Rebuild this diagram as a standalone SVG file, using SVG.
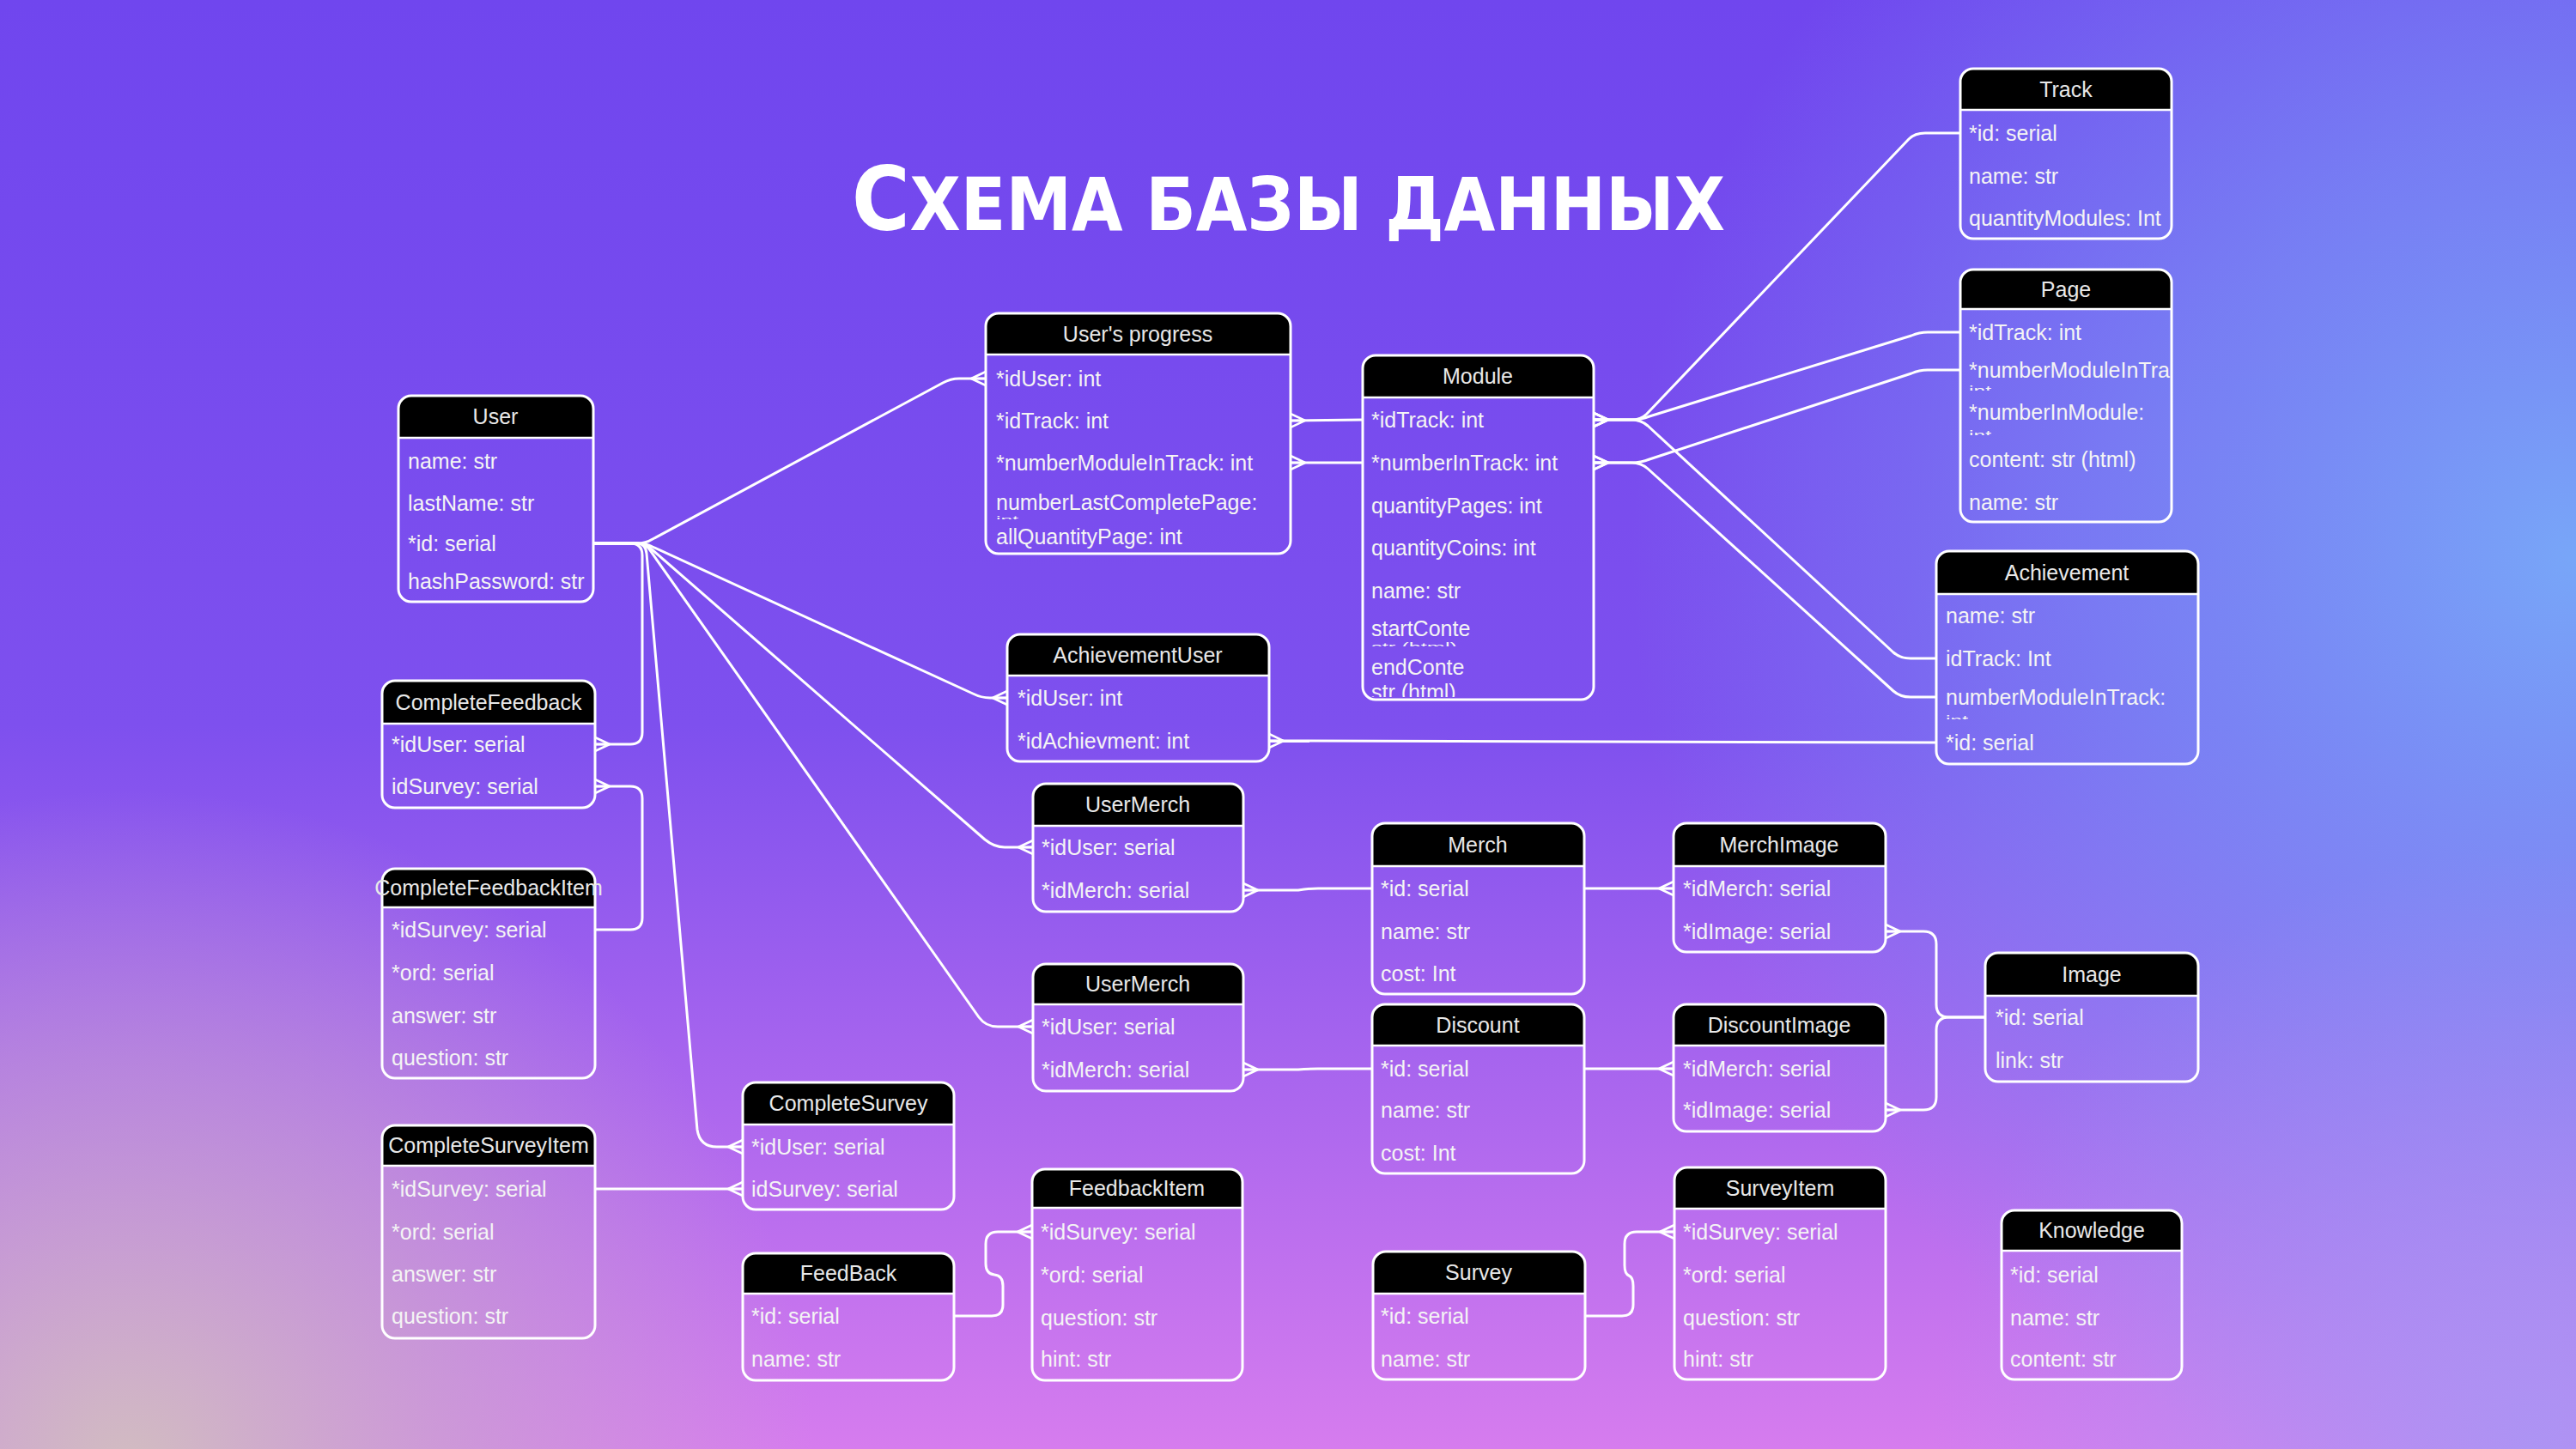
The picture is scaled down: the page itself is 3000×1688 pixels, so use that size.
<svg xmlns="http://www.w3.org/2000/svg" width="3000" height="1688" viewBox="0 0 3000 1688">
<defs>
<linearGradient id="bgBase" x1="0" y1="0" x2="0" y2="1">
<stop offset="0" stop-color="#7046EE"/>
<stop offset="0.5" stop-color="#7E50EE"/>
<stop offset="1" stop-color="#D67CEE"/>
</linearGradient>
<radialGradient id="bgBlue" cx="3000" cy="650" r="1100" gradientUnits="userSpaceOnUse">
<stop offset="0" stop-color="#78A6F8" stop-opacity="1"/>
<stop offset="0.45" stop-color="#7894F6" stop-opacity="0.7"/>
<stop offset="1" stop-color="#7894F6" stop-opacity="0"/>
</radialGradient>
<radialGradient id="bgBeige" cx="150" cy="1720" r="800" gradientUnits="userSpaceOnUse">
<stop offset="0" stop-color="#D2BEC0" stop-opacity="1"/>
<stop offset="0.5" stop-color="#C8A8CC" stop-opacity="0.6"/>
<stop offset="1" stop-color="#C8A8CC" stop-opacity="0"/>
</radialGradient>
<radialGradient id="bgLav" cx="2950" cy="1688" r="700" gradientUnits="userSpaceOnUse">
<stop offset="0" stop-color="#A996F4" stop-opacity="0.9"/>
<stop offset="1" stop-color="#A996F4" stop-opacity="0"/>
</radialGradient>
<marker id="many" markerUnits="userSpaceOnUse" markerWidth="40" markerHeight="40" viewBox="-20 -20 40 40" refX="0" refY="0" orient="auto" overflow="visible">
<path d="M-17,0 L0,-8 M-17,0 L0,8 M-17,0 L0,0" stroke="#ffffff" stroke-width="2.5" fill="none"/>
</marker>
<clipPath id="cPage1"><rect x="2283" y="448" width="246" height="7"/></clipPath>
<clipPath id="cPage2"><rect x="2283" y="500" width="246" height="7"/></clipPath>
<clipPath id="cAch"><rect x="2255" y="830" width="305" height="8"/></clipPath>
<clipPath id="cUP"><rect x="1148" y="600" width="355" height="5"/></clipPath>
<clipPath id="cMod1"><rect x="1587" y="747" width="269" height="6"/></clipPath>
<clipPath id="cMod2"><rect x="1587" y="792" width="269" height="20"/></clipPath>
<clipPath id="cPageW"><rect x="2283" y="410" width="246" height="40"/></clipPath>
</defs>
<style>
.hdr{fill:#000000;}
.box{fill:none;stroke:#ffffff;stroke-width:3;}
.sep{stroke:#ffffff;stroke-width:2.5;}
.ht{font-family:"Liberation Sans",Arial,sans-serif;font-size:25px;fill:#e8e8e8;text-anchor:middle;}
.rt{font-family:"Liberation Sans",Arial,sans-serif;font-size:25px;fill:#f4f4f4;}
.fr{font-family:"Liberation Sans",Arial,sans-serif;fill:#f4f4f4;}
.cn path{fill:none;stroke:#ffffff;stroke-width:3;stroke-linejoin:round;}
.cn .m{marker-end:url(#many);}
</style>
<rect x="0" y="0" width="3000" height="1688" fill="url(#bgBase)"/>
<rect x="0" y="0" width="3000" height="1688" fill="url(#bgBlue)"/>
<rect x="0" y="0" width="3000" height="1688" fill="url(#bgBeige)"/>
<rect x="0" y="0" width="3000" height="1688" fill="url(#bgLav)"/>

<text id="title" x="992" y="268" textLength="1017" lengthAdjust="spacingAndGlyphs" font-family="'DejaVu Sans Condensed','DejaVu Sans','Open Sans',sans-serif" font-weight="bold" fill="#ffffff"><tspan font-size="103">С</tspan><tspan font-size="86" style="text-transform:uppercase">хема базы данных</tspan></text>

<g id="connectors" class="cn">
<path class="m" d="M691,633 H742 Q752,633 760,628 L1098,446 Q1107,441 1117,441 H1148"/>
<path class="m" d="M691,633 H742 Q752,633 760,637 L1133,808 Q1143,813 1153,813 H1173"/>
<path class="m" d="M691,633 H742 Q752,633 759,640 L1147,978 Q1158,987 1170,987 H1203"/>
<path class="m" d="M691,633 H742 Q752,633 757,641 L1140,1185 Q1148,1196 1162,1196 H1203"/>
<path class="m" d="M691,633 H742 Q752,633 753,645 L812,1316 Q815,1336 835,1336 H865"/>
<path class="m" d="M691,633 H734 Q748,633 748,647 V853 Q748,867 734,867 H693"/>
<path class="m" d="M693,1083 H734 Q748,1083 748,1069 V930 Q748,916 734,916 H693"/>
<path class="m" d="M693,1385 H865"/>
<path class="m" d="M1111,1533 H1155 Q1168,1533 1168,1520 V1498 Q1168,1486 1158,1485 Q1148,1484 1148,1472 V1449 Q1148,1435 1162,1435 H1202"/>
<path class="m" d="M1846,1533 H1889 Q1902,1533 1902,1520 V1498 Q1902,1488 1897,1486 Q1892,1484 1892,1474 V1449 Q1892,1435 1906,1435 H1950"/>
<path class="m" d="M1598,1035 H1535 Q1522,1035 1512,1037 H1448"/>
<path class="m" d="M1598,1245 H1535 Q1522,1245 1512,1246 H1448"/>
<path class="m" d="M1845,1035 H1949"/>
<path class="m" d="M1845,1245 H1949"/>
<path class="m" d="M2312,1185 H2270 Q2255,1185 2255,1170 V1100 Q2255,1085 2240,1085 H2196"/>
<path class="m" d="M2312,1185 H2270 Q2255,1185 2255,1200 V1278 Q2255,1293 2240,1293 H2196"/>
<path class="m" d="M2255,865 L1478,863"/>
<path class="m" d="M1587,489 L1503,490"/>
<path class="m" d="M1587,539 H1503"/>
<path class="m" d="M2283,155 H2242 Q2230,155 2223,162 L1918,482 Q1911,489 1900,489 H1856"/>
<path class="m" d="M2283,387 H2245 Q2235,387 2226,391 L1921,485 Q1911,489 1900,489 H1856"/>
<path class="m" d="M2283,431 H2245 Q2235,431 2226,435 L1921,535 Q1911,539 1900,539 H1856"/>
<path class="m" d="M2255,767 H2225 Q2213,767 2205,760 L1919,496 Q1911,489 1900,489 H1856"/>
<path class="m" d="M2255,812 H2225 Q2213,812 2205,805 L1919,546 Q1911,539 1900,539 H1856"/>
</g>

<g id="User">
<path class="hdr" d="M464,510 V476 Q464,461 479,461 H676 Q691,461 691,476 V510 Z"/>
<rect class="box" x="464" y="461" width="227" height="240" rx="15"/>
<line class="sep" x1="464" y1="510" x2="691" y2="510"/>
<text class="ht" x="577" y="494">User</text>
<text class="rt" x="475" y="546">name: str</text>
<text class="rt" x="475" y="595">lastName: str</text>
<text class="rt" x="475" y="642">*id: serial</text>
<text class="rt" x="475" y="686">hashPassword: str</text>
</g>

<g id="Track">
<path class="hdr" d="M2283,128 V95 Q2283,80 2298,80 H2514 Q2529,80 2529,95 V128 Z"/>
<rect class="box" x="2283" y="80" width="246" height="198" rx="15"/>
<line class="sep" x1="2283" y1="128" x2="2529" y2="128"/>
<text class="ht" x="2406" y="113">Track</text>
<text class="rt" x="2293" y="164">*id: serial</text>
<text class="rt" x="2293" y="214">name: str</text>
<text class="rt" x="2293" y="263">quantityModules: Int</text>
</g>

<g id="Page">
<path class="hdr" d="M2283,360 V329 Q2283,314 2298,314 H2514 Q2529,314 2529,329 V360 Z"/>
<rect class="box" x="2283" y="314" width="246" height="294" rx="15"/>
<line class="sep" x1="2283" y1="360" x2="2529" y2="360"/>
<text class="ht" x="2406" y="346">Page</text>
<text class="rt" x="2293" y="396">*idTrack: int</text>
<text class="rt" x="2293" y="440" clip-path="url(#cPageW)">*numberModuleInTra</text>
<text class="fr" x="2293" y="461" font-size="16" textLength="26" lengthAdjust="spacingAndGlyphs" clip-path="url(#cPage1)">int</text>
<text class="rt" x="2293" y="489">*numberInModule:</text>
<text class="fr" x="2293" y="514" font-size="18" textLength="26" lengthAdjust="spacingAndGlyphs" clip-path="url(#cPage2)">int</text>
<text class="rt" x="2293" y="544">content: str (html)</text>
<text class="rt" x="2293" y="594">name: str</text>
</g>

<g id="Achievement">
<path class="hdr" d="M2255,692 V657 Q2255,642 2270,642 H2545 Q2560,642 2560,657 V692 Z"/>
<rect class="box" x="2255" y="642" width="305" height="248" rx="15"/>
<line class="sep" x1="2255" y1="692" x2="2560" y2="692"/>
<text class="ht" x="2407" y="676">Achievement</text>
<text class="rt" x="2266" y="726">name: str</text>
<text class="rt" x="2266" y="776">idTrack: Int</text>
<text class="rt" x="2266" y="821">numberModuleInTrack:</text>
<text class="fr" x="2266" y="846" font-size="18" textLength="26" lengthAdjust="spacingAndGlyphs" clip-path="url(#cAch)">int</text>
<text class="rt" x="2266" y="874">*id: serial</text>
</g>

<g id="UsersProgress">
<path class="hdr" d="M1148,413 V380 Q1148,365 1163,365 H1488 Q1503,365 1503,380 V413 Z"/>
<rect class="box" x="1148" y="365" width="355" height="280" rx="15"/>
<line class="sep" x1="1148" y1="413" x2="1503" y2="413"/>
<text class="ht" x="1325" y="398">User's progress</text>
<text class="rt" x="1160" y="450">*idUser: int</text>
<text class="rt" x="1160" y="499">*idTrack: int</text>
<text class="rt" x="1160" y="548">*numberModuleInTrack: int</text>
<text class="rt" x="1160" y="594">numberLastCompletePage:</text>
<text class="fr" x="1160" y="609" font-size="10" textLength="26" lengthAdjust="spacingAndGlyphs" clip-path="url(#cUP)">int</text>
<text class="rt" x="1160" y="634">allQuantityPage: int</text>
</g>

<g id="Module">
<path class="hdr" d="M1587,463 V429 Q1587,414 1602,414 H1841 Q1856,414 1856,429 V463 Z"/>
<rect class="box" x="1587" y="414" width="269" height="401" rx="15"/>
<line class="sep" x1="1587" y1="463" x2="1856" y2="463"/>
<text class="ht" x="1721" y="447">Module</text>
<text class="rt" x="1597" y="498">*idTrack: int</text>
<text class="rt" x="1597" y="548">*numberInTrack: int</text>
<text class="rt" x="1597" y="598">quantityPages: int</text>
<text class="rt" x="1597" y="647">quantityCoins: int</text>
<text class="rt" x="1597" y="697">name: str</text>
<text class="rt" x="1597" y="741">startConte</text>
<text class="fr" x="1597" y="759" font-size="14" textLength="100" lengthAdjust="spacingAndGlyphs" clip-path="url(#cMod1)">str (html)</text>
<text class="rt" x="1597" y="786">endConte</text>
<text class="rt" x="1597" y="815" clip-path="url(#cMod2)">str (html)</text>
</g>

<g id="AchievementUser">
<path class="hdr" d="M1173,787 V754 Q1173,739 1188,739 H1463 Q1478,739 1478,754 V787 Z"/>
<rect class="box" x="1173" y="739" width="305" height="148" rx="15"/>
<line class="sep" x1="1173" y1="787" x2="1478" y2="787"/>
<text class="ht" x="1325" y="772">AchievementUser</text>
<text class="rt" x="1185" y="822">*idUser: int</text>
<text class="rt" x="1185" y="872">*idAchievment: int</text>
</g>

<g id="UserMerch1">
<path class="hdr" d="M1203,962 V928 Q1203,913 1218,913 H1433 Q1448,913 1448,928 V962 Z"/>
<rect class="box" x="1203" y="913" width="245" height="149" rx="15"/>
<line class="sep" x1="1203" y1="962" x2="1448" y2="962"/>
<text class="ht" x="1325" y="946">UserMerch</text>
<text class="rt" x="1213" y="996">*idUser: serial</text>
<text class="rt" x="1213" y="1046">*idMerch: serial</text>
</g>

<g id="UserMerch2">
<path class="hdr" d="M1203,1170 V1138 Q1203,1123 1218,1123 H1433 Q1448,1123 1448,1138 V1170 Z"/>
<rect class="box" x="1203" y="1123" width="245" height="148" rx="15"/>
<line class="sep" x1="1203" y1="1170" x2="1448" y2="1170"/>
<text class="ht" x="1325" y="1155">UserMerch</text>
<text class="rt" x="1213" y="1205">*idUser: serial</text>
<text class="rt" x="1213" y="1255">*idMerch: serial</text>
</g>

<g id="Merch">
<path class="hdr" d="M1598,1009 V974 Q1598,959 1613,959 H1830 Q1845,959 1845,974 V1009 Z"/>
<rect class="box" x="1598" y="959" width="247" height="199" rx="15"/>
<line class="sep" x1="1598" y1="1009" x2="1845" y2="1009"/>
<text class="ht" x="1721" y="993">Merch</text>
<text class="rt" x="1608" y="1044">*id: serial</text>
<text class="rt" x="1608" y="1094">name: str</text>
<text class="rt" x="1608" y="1143">cost: Int</text>
</g>

<g id="Discount">
<path class="hdr" d="M1598,1218 V1185 Q1598,1170 1613,1170 H1830 Q1845,1170 1845,1185 V1218 Z"/>
<rect class="box" x="1598" y="1170" width="247" height="197" rx="15"/>
<line class="sep" x1="1598" y1="1218" x2="1845" y2="1218"/>
<text class="ht" x="1721" y="1203">Discount</text>
<text class="rt" x="1608" y="1254">*id: serial</text>
<text class="rt" x="1608" y="1302">name: str</text>
<text class="rt" x="1608" y="1352">cost: Int</text>
</g>

<g id="MerchImage">
<path class="hdr" d="M1949,1009 V974 Q1949,959 1964,959 H2181 Q2196,959 2196,974 V1009 Z"/>
<rect class="box" x="1949" y="959" width="247" height="150" rx="15"/>
<line class="sep" x1="1949" y1="1009" x2="2196" y2="1009"/>
<text class="ht" x="2072" y="993">MerchImage</text>
<text class="rt" x="1960" y="1044">*idMerch: serial</text>
<text class="rt" x="1960" y="1094">*idImage: serial</text>
</g>

<g id="DiscountImage">
<path class="hdr" d="M1949,1218 V1185 Q1949,1170 1964,1170 H2181 Q2196,1170 2196,1185 V1218 Z"/>
<rect class="box" x="1949" y="1170" width="247" height="148" rx="15"/>
<line class="sep" x1="1949" y1="1218" x2="2196" y2="1218"/>
<text class="ht" x="2072" y="1203">DiscountImage</text>
<text class="rt" x="1960" y="1254">*idMerch: serial</text>
<text class="rt" x="1960" y="1302">*idImage: serial</text>
</g>

<g id="Image">
<path class="hdr" d="M2312,1160 V1125 Q2312,1110 2327,1110 H2545 Q2560,1110 2560,1125 V1160 Z"/>
<rect class="box" x="2312" y="1110" width="248" height="150" rx="15"/>
<line class="sep" x1="2312" y1="1160" x2="2560" y2="1160"/>
<text class="ht" x="2436" y="1144">Image</text>
<text class="rt" x="2324" y="1194">*id: serial</text>
<text class="rt" x="2324" y="1244">link: str</text>
</g>

<g id="CompleteFeedback">
<path class="hdr" d="M445,843 V808 Q445,793 460,793 H678 Q693,793 693,808 V843 Z"/>
<rect class="box" x="445" y="793" width="248" height="148" rx="15"/>
<line class="sep" x1="445" y1="843" x2="693" y2="843"/>
<text class="ht" x="569" y="827">CompleteFeedback</text>
<text class="rt" x="456" y="876">*idUser: serial</text>
<text class="rt" x="456" y="925">idSurvey: serial</text>
</g>

<g id="CompleteFeedbackItem">
<path class="hdr" d="M445,1057 V1027 Q445,1012 460,1012 H678 Q693,1012 693,1027 V1057 Z"/>
<rect class="box" x="445" y="1012" width="248" height="244" rx="15"/>
<line class="sep" x1="445" y1="1057" x2="693" y2="1057"/>
<text class="ht" x="569" y="1043">CompleteFeedbackItem</text>
<text class="rt" x="456" y="1092">*idSurvey: serial</text>
<text class="rt" x="456" y="1142">*ord: serial</text>
<text class="rt" x="456" y="1192">answer: str</text>
<text class="rt" x="456" y="1241">question: str</text>
</g>

<g id="CompleteSurveyItem">
<path class="hdr" d="M445,1358 V1326 Q445,1311 460,1311 H678 Q693,1311 693,1326 V1358 Z"/>
<rect class="box" x="445" y="1311" width="248" height="248" rx="15"/>
<line class="sep" x1="445" y1="1358" x2="693" y2="1358"/>
<text class="ht" x="569" y="1343">CompleteSurveyItem</text>
<text class="rt" x="456" y="1394">*idSurvey: serial</text>
<text class="rt" x="456" y="1444">*ord: serial</text>
<text class="rt" x="456" y="1493">answer: str</text>
<text class="rt" x="456" y="1542">question: str</text>
</g>

<g id="CompleteSurvey">
<path class="hdr" d="M865,1310 V1276 Q865,1261 880,1261 H1096 Q1111,1261 1111,1276 V1310 Z"/>
<rect class="box" x="865" y="1261" width="246" height="148" rx="15"/>
<line class="sep" x1="865" y1="1310" x2="1111" y2="1310"/>
<text class="ht" x="988" y="1294">CompleteSurvey</text>
<text class="rt" x="875" y="1345">*idUser: serial</text>
<text class="rt" x="875" y="1394">idSurvey: serial</text>
</g>

<g id="FeedBack">
<path class="hdr" d="M865,1507 V1475 Q865,1460 880,1460 H1096 Q1111,1460 1111,1475 V1507 Z"/>
<rect class="box" x="865" y="1460" width="246" height="148" rx="15"/>
<line class="sep" x1="865" y1="1507" x2="1111" y2="1507"/>
<text class="ht" x="988" y="1492">FeedBack</text>
<text class="rt" x="875" y="1542">*id: serial</text>
<text class="rt" x="875" y="1592">name: str</text>
</g>

<g id="FeedbackItem">
<path class="hdr" d="M1202,1407 V1377 Q1202,1362 1217,1362 H1432 Q1447,1362 1447,1377 V1407 Z"/>
<rect class="box" x="1202" y="1362" width="245" height="246" rx="15"/>
<line class="sep" x1="1202" y1="1407" x2="1447" y2="1407"/>
<text class="ht" x="1324" y="1393">FeedbackItem</text>
<text class="rt" x="1212" y="1444">*idSurvey: serial</text>
<text class="rt" x="1212" y="1494">*ord: serial</text>
<text class="rt" x="1212" y="1544">question: str</text>
<text class="rt" x="1212" y="1592">hint: str</text>
</g>

<g id="Survey">
<path class="hdr" d="M1599,1507 V1473 Q1599,1458 1614,1458 H1831 Q1846,1458 1846,1473 V1507 Z"/>
<rect class="box" x="1599" y="1458" width="247" height="149" rx="15"/>
<line class="sep" x1="1599" y1="1507" x2="1846" y2="1507"/>
<text class="ht" x="1722" y="1491">Survey</text>
<text class="rt" x="1608" y="1542">*id: serial</text>
<text class="rt" x="1608" y="1592">name: str</text>
</g>

<g id="SurveyItem">
<path class="hdr" d="M1950,1408 V1375 Q1950,1360 1965,1360 H2181 Q2196,1360 2196,1375 V1408 Z"/>
<rect class="box" x="1950" y="1360" width="246" height="247" rx="15"/>
<line class="sep" x1="1950" y1="1408" x2="2196" y2="1408"/>
<text class="ht" x="2073" y="1393">SurveyItem</text>
<text class="rt" x="1960" y="1444">*idSurvey: serial</text>
<text class="rt" x="1960" y="1494">*ord: serial</text>
<text class="rt" x="1960" y="1544">question: str</text>
<text class="rt" x="1960" y="1592">hint: str</text>
</g>

<g id="Knowledge">
<path class="hdr" d="M2331,1457 V1425 Q2331,1410 2346,1410 H2526 Q2541,1410 2541,1425 V1457 Z"/>
<rect class="box" x="2331" y="1410" width="210" height="197" rx="15"/>
<line class="sep" x1="2331" y1="1457" x2="2541" y2="1457"/>
<text class="ht" x="2436" y="1442">Knowledge</text>
<text class="rt" x="2341" y="1494">*id: serial</text>
<text class="rt" x="2341" y="1544">name: str</text>
<text class="rt" x="2341" y="1592">content: str</text>
</g>
</svg>
